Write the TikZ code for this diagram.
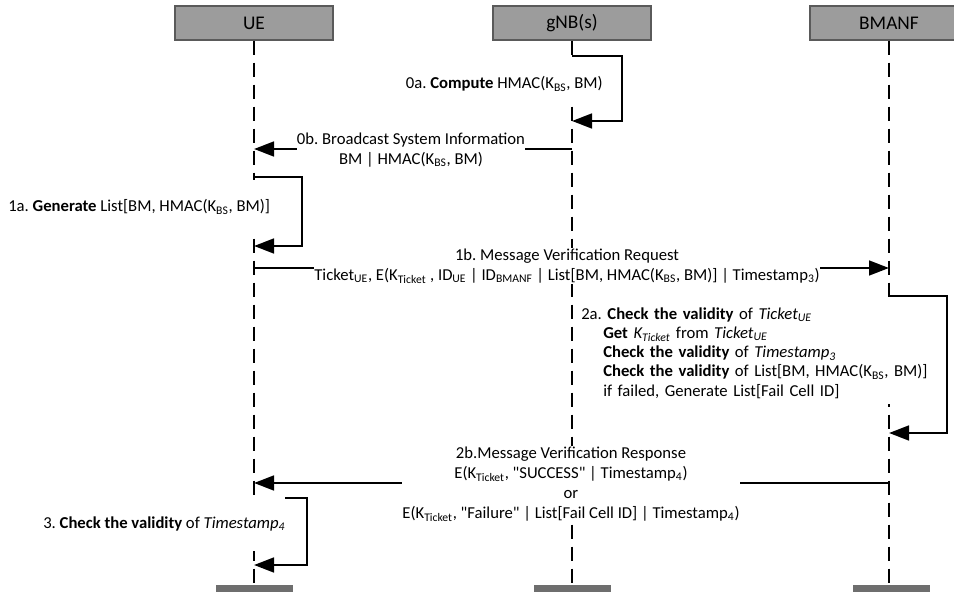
\documentclass[tikz,border=0pt]{standalone}
\usepackage{fontspec}
\setmainfont{Carlito}[Ligatures=TeXOff]
\usetikzlibrary{arrows.meta}
\definecolor{headfill}{RGB}{156,156,156}
\definecolor{headline}{RGB}{90,90,90}
\definecolor{footfill}{RGB}{110,110,110}
\newcommand{\sbs}[1]{\textsubscript{#1}}
\newcommand{\stepindent}{\hspace*{16.5pt}}
\frenchspacing
\begin{document}
\begin{tikzpicture}[x=0.75pt,y=-0.75pt,
  font=\fontsize{12.5}{15}\selectfont,
  head/.style={draw=headline, fill=headfill, line width=0.8pt,
    minimum width=118.5pt, minimum height=25.5pt, inner sep=0pt,
    font=\fontsize{14.5}{16}\selectfont},
  foot/.style={fill=footfill, minimum width=57.75pt, minimum height=12pt, inner sep=0pt},
  life/.style={line width=1.4pt, dash pattern=on 10.5pt off 6pt},
  msg/.style={line width=2pt, -{Triangle[length=15pt,width=11pt]}},
  lbl/.style={fill=white, inner xsep=0pt, inner ysep=1pt, align=center}]
\useasboundingbox (0,0) rectangle (954,592);

% participants
\node[head] (ue) at (254,23) {UE};
\node[head] (gnb) at (572,23) {gNB(s)};
\node[head] (bmanf) at (889,23) {BMANF};
\node[foot, anchor=north] (uef) at (254,585) {};
\node[foot, anchor=north] (gnbf) at (572,585) {};
\node[foot, anchor=north] (bmanff) at (891,585) {};

% lifelines
\draw[life] (ue.south) -- (uef.north);
\draw[life] (gnb.south) -- (gnbf.north);
\draw[life] (bmanf.south) -- (bmanf.south |- bmanff.north);

% message end points on the lifelines
\coordinate (g0a) at (572,56);
\coordinate (g0b) at (572,121);
\coordinate (g1) at (572,149);
\coordinate (u1) at (254,149);
\coordinate (u2a) at (254,177);
\coordinate (u2b) at (254,246);
\coordinate (u3) at (254,268);
\coordinate (b3) at (889,268);
\coordinate (b4a) at (889,296);
\coordinate (b4b) at (889,433);
\coordinate (b5) at (889,483);
\coordinate (u5) at (254,483);
\coordinate (u6a) at (254,498);
\coordinate (u6b) at (254,565);

% messages
\draw[msg] (g0a) -- (622,56) |- (g0b);
\draw[msg] (g1) -- (u1);
\draw[msg] (u2a) -- (302,177) |- (u2b);
\draw[msg] (u3) -- (b3);
\draw[msg] (b5) -- (u5);
\draw[msg] (u6a) -- (307,498) |- (u6b);

% labels
\node[lbl, anchor=east, minimum height=33pt] (l0a) at (603,84)
  {0a. \textbf{Compute} HMAC(K\sbs{BS}, BM)};
\node[lbl] (l0b) at (411,150)
  {0b. Broadcast System Information\\BM | HMAC(K\sbs{BS}, BM)};
\node[lbl, anchor=west, minimum height=40pt] (l1a) at (8,207)
  {1a. \textbf{Generate} List[BM, HMAC(K\sbs{BS}, BM)]};
\node[lbl] (l1b) at (567,266)
  {1b. Message Verification Request\\Ticket\sbs{UE}, E(K\sbs{Ticket} , ID\sbs{UE} | ID\sbs{BMANF} | List[BM, HMAC(K\sbs{BS}, BM)] | Timestamp\sbs{3})};
\node[lbl, anchor=north west, align=left, text width=280pt, inner ysep=4pt,
  font=\fontsize{12.5}{14.4}\selectfont] (l2a) at (581,302)
  {2a. \textbf{Check the validity} of \textit{Ticket\sbs{UE}}\\
   \stepindent\textbf{Get} \textit{K\sbs{Ticket}} from \textit{Ticket\sbs{UE}}\\
   \stepindent\textbf{Check the validity} of \textit{Timestamp\sbs{3}}\\
   \stepindent\textbf{Check the validity} of List[BM, HMAC(K\sbs{BS}, BM)]\\
   \stepindent if failed, Generate List[Fail Cell ID]\\[10pt]};
\node[lbl] (l2b) at (571,484)
  {2b.Message Verification Response\\E(K\sbs{Ticket}, "SUCCESS" | Timestamp\sbs{4})\\or\\E(K\sbs{Ticket}, "Failure" | List[Fail Cell ID] | Timestamp\sbs{4})};
\node[lbl, anchor=west, minimum height=40pt] (l3) at (43,524)
  {3. \textbf{Check the validity} of \textit{Timestamp\sbs{4}}};

% BMANF self check, drawn over its wide text box
\draw[msg] (b4a) -- (947,296) |- (b4b);
\end{tikzpicture}
\end{document}
